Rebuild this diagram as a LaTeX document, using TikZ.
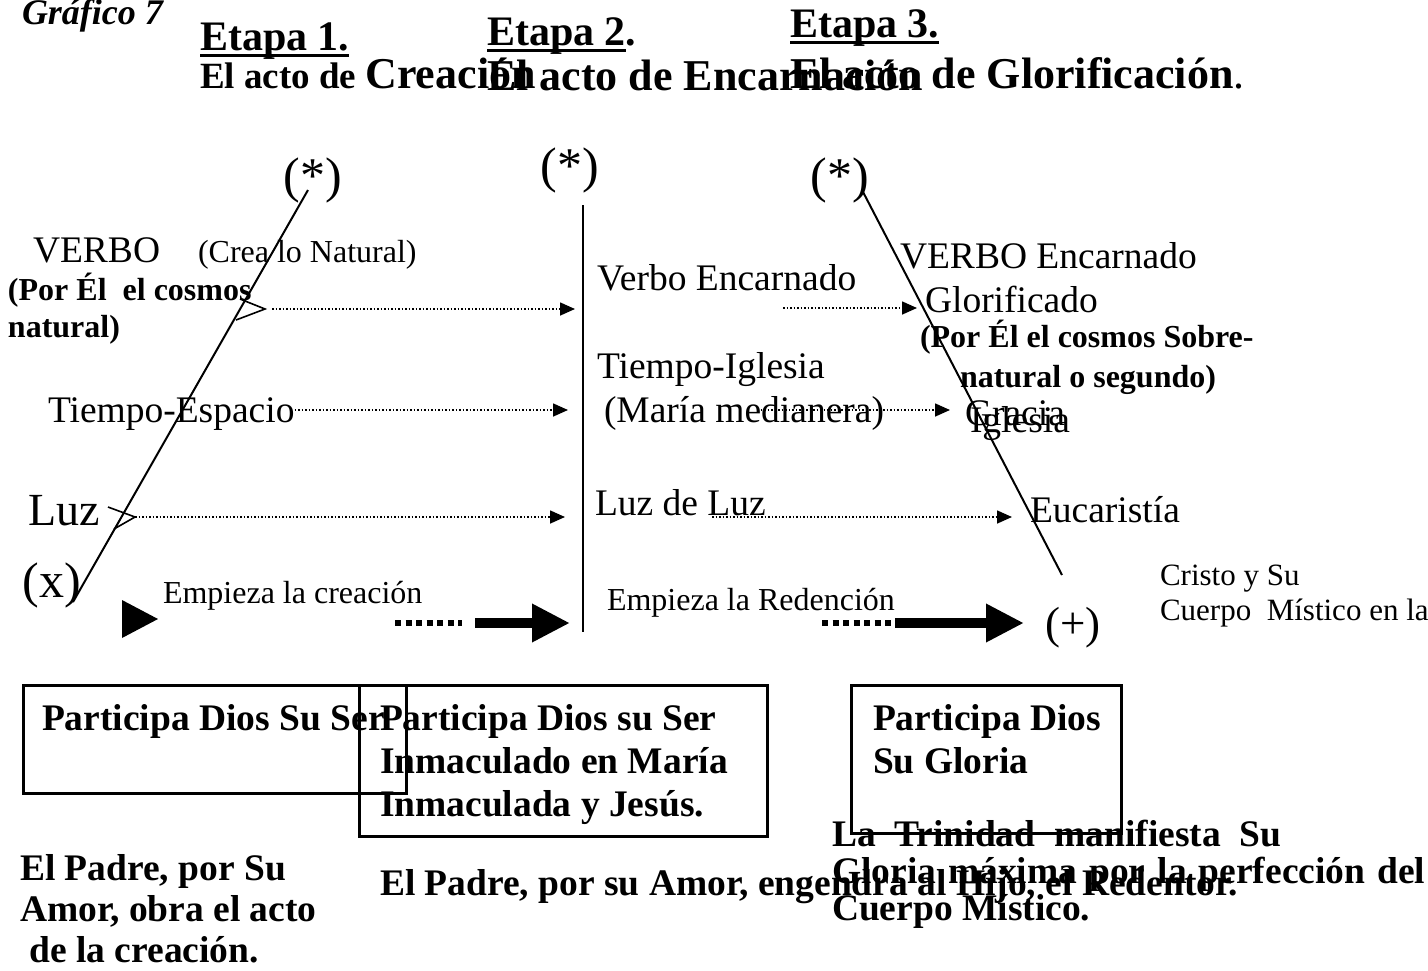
\documentclass[tikz,border=0pt]{standalone}
\usepackage{fontspec}
\setmainfont{Liberation Serif}
\usetikzlibrary{arrows.meta}
\newcommand\thickul[1]{\setbox0\hbox{#1}\rlap{\rule[-7pt]{\wd0}{3.5pt}}\box0}
\newcommand\fs[2]{\fontsize{#1}{#2}\selectfont}
\newcommand\gap{\hspace{12pt}}
\begin{document}
\begin{tikzpicture}[x=1pt,y=-1pt,
  txt/.style={anchor=base west,inner sep=0pt,outer sep=0pt},
  mid/.style={anchor=center,inner sep=0pt,outer sep=0pt},
  mainline/.style={line width=2pt},
  dotarrow/.style={line width=1.6pt,dash pattern=on 1.5pt off 2pt,-{Triangle[length=15pt,width=13pt]}},
  chev/.style={line width=1.6pt},
  thickdots/.style={line width=6pt,dash pattern=on 6pt off 4.5pt},
  bigarrow/.style={line width=10pt,-{Triangle[length=38pt,width=36pt]}},
  boxst/.style={draw,line width=2.5pt,anchor=north west,inner sep=0pt},
  bt/.style={txt,font=\bfseries\fs{37.5}{43},align=left}
]
\useasboundingbox (0,0) rectangle (1428,970);
\fill[white] (0,0) rectangle (1428,970);

% headers
\node[txt,font=\bfseries\itshape\fs{36}{36}] (graf) at (22,24) {Gráfico 7};
\node[txt,font=\bfseries\fs{42}{42}] (et1) at (200,50) {\thickul{Etapa 1.}};
\node[txt,font=\bfseries] (ac1) at (200,88) {\fs{37}{37}El acto de \fs{44}{44}Creación};
\node[txt,font=\bfseries\fs{42}{42}] (et2) at (487,45) {\thickul{Etapa 2}.};
\node[txt,font=\bfseries\fs{44}{44}] (ac2) at (487,90) {El acto de Encarnación};
\node[txt,font=\bfseries\fs{42}{42}] (et3) at (790,37) {\thickul{Etapa 3.}};
\node[txt,font=\fs{44}{44}] (ac3) at (790,88) {\textbf{El acto de Glorificación}.};

% left stage
\node[mid,font=\fs{50}{50}] (s1) at (313,180) {(*)};
\coordinate (l1t) at (308,190);
\coordinate (l1b) at (73,602);
\draw[mainline] (l1t) -- (l1b);
\node[txt,font=\fs{37.5}{37.5}] (verbo) at (33,262) {VERBO};
\node[txt,font=\fs{32}{32}] (crea) at (198,262) {(Crea lo Natural)};
\node[txt,font=\bfseries\fs{32}{37},align=left] (porel) at (8,337) {(Por Él\ \ el cosmos\\natural)};
\coordinate (c1a) at (240,299);
\coordinate (c1t) at (265,309);
\coordinate (c1b) at (236,320);
\draw[chev] (c1a) -- (c1t) -- (c1b);
\coordinate (a1s) at (272,309);
\coordinate (a1e) at (575,309);
\draw[dotarrow] (a1s) -- (a1e);
\node[txt,font=\fs{37.5}{37.5}] (tiempo) at (48,422) {Tiempo-Espacio};
\coordinate (a2e) at (568,410);
\draw[dotarrow] (tiempo.east |- a2e) -- (a2e);
\node[txt,font=\fs{46}{46}] (luz) at (28,525) {Luz};
\coordinate (c2a) at (108,507);
\coordinate (c2t) at (135,517);
\coordinate (c2b) at (114,529);
\draw[chev] (c2a) -- (c2t) -- (c2b);
\coordinate (a3e) at (565,517);
\draw[dotarrow] (c2t) -- (a3e);
\node[mid,font=\fs{50}{50}] (x) at (52,585) {(x)};
\fill (122,600) -- (158,619) -- (122,638) -- cycle;
\node[txt,font=\fs{32}{32}] (emp1) at (163,603) {Empieza la creación};
\coordinate (d1s) at (395,623);
\coordinate (d1e) at (462,623);
\draw[thickdots] (d1s) -- (d1e);
\coordinate (b1s) at (475,623);
\coordinate (b1e) at (570,623);
\draw[bigarrow] (b1s) -- (b1e);

% middle stage
\node[mid,font=\fs{50}{50}] (s2) at (570,170) {(*)};
\coordinate (l2t) at (583,205);
\coordinate (l2b) at (583,632);
\draw[mainline] (l2t) -- (l2b);
\node[txt,font=\fs{37.5}{37.5}] (verboenc) at (597,290) {Verbo Encarnado};
\node[txt,font=\fs{37.5}{37.5}] (tig) at (597,378) {Tiempo-Iglesia};
\node[txt,font=\fs{37.5}{37.5}] (maria) at (604,422) {(María medianera)};
\node[txt,font=\fs{37.5}{37.5}] (luzdeluz) at (595,515) {Luz de Luz};
\node[txt,font=\fs{32}{32}] (emp2) at (607,610) {Empieza la Redención};
\coordinate (a4s) at (783,308);
\coordinate (a4e) at (917,308);
\draw[dotarrow] (a4s) -- (a4e);
\coordinate (a5s) at (757,410);
\coordinate (a5e) at (950,410);
\draw[dotarrow] (a5s) -- (a5e);
\coordinate (a6s) at (712,517);
\coordinate (a6e) at (1012,517);
\draw[dotarrow] (a6s) -- (a6e);
\coordinate (d2s) at (822,623);
\coordinate (d2e) at (892,623);
\draw[thickdots] (d2s) -- (d2e);
\coordinate (b2s) at (895,623);
\coordinate (b2e) at (1024,623);
\draw[bigarrow] (b2s) -- (b2e);

% right stage
\node[mid,font=\fs{50}{50}] (s3) at (840,180) {(*)};
\coordinate (l3t) at (862,190);
\coordinate (l3b) at (1062,575);
\draw[mainline] (l3t) -- (l3b);
\node[txt,font=\fs{37.5}{37.5}] (verboenc2) at (900,268) {VERBO Encarnado};
\node[txt,font=\fs{37.5}{37.5}] (glor) at (925,312) {Glorificado};
\node[txt,font=\bfseries\fs{32}{40},align=left] (porel2) at (920,387) {(Por Él el cosmos Sobre-\\\hspace*{40pt}natural o segundo)};
\node[txt,font=\fs{37.5}{37.5}] (gracia) at (965,425) {Gracia};
\node[txt,font=\fs{37.5}{37.5}] (iglesia) at (970,432) {Iglesia};
\node[txt,font=\fs{37.5}{37.5}] (euc) at (1030,522) {Eucaristía};
\node[mid,font=\fs{45}{45}] (plus) at (1073,628) {(+)};
\node[txt,font=\fs{31}{35},align=left] (cristo) at (1160,620) {Cristo y Su\\Cuerpo\ \ Místico en la};

% boxes
\node[boxst,minimum width=383pt,minimum height=108pt] (box1) at (22,684) {};
\node[boxst,minimum width=408pt,minimum height=151pt] (box2) at (358,684) {};
\node[boxst,minimum width=270pt,minimum height=148pt] (box3) at (850,684) {};
\node[bt] (p1) at (42,730) {Participa Dios Su Ser};
\node[bt] (p2) at (380,816) {Participa Dios su Ser\\Inmaculado en María\\Inmaculada y Jesús.};
\node[bt] (p3) at (873,773) {Participa Dios\\Su Gloria};
\node[txt,font=\bfseries\fs{37.5}{37},align=left] (trin) at (832,920) {La\ \ Trinidad\ \ manifiesta\ \ Su\\Gloria\gap máxima\gap por\gap la\gap perfección\gap del\\Cuerpo Místico.};
\node[bt] (padre2) at (380,895) {El Padre, por su Amor, engendra al Hijo, el Redentor.};
\node[txt,font=\bfseries\fs{37.5}{41},align=left] (padre1) at (20,962) {El Padre, por Su\\Amor, obra el acto\\\ de la creación.};
\end{tikzpicture}
\end{document}
